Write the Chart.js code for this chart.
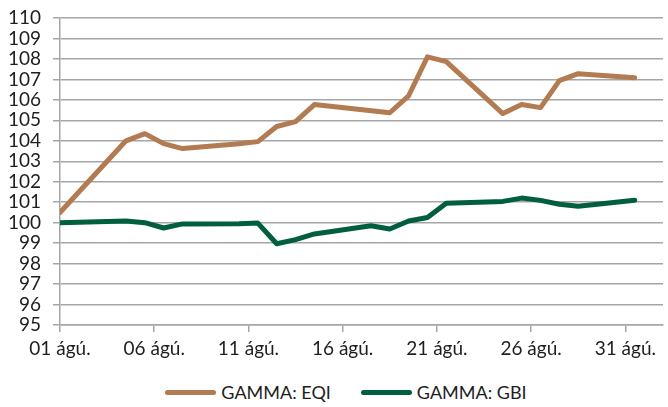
<!DOCTYPE html>
<html>
<head>
<meta charset="utf-8">
<script src="https://cdn.jsdelivr.net/npm/chart.js@4"></script>
<style>
  html, body { margin: 0; padding: 0; background: #fff; }
  #wrap { width: 668px; height: 377px; position: relative; }
  #legend {
    width: 644px; height: 30px; padding-left: 24px;
    display: flex; justify-content: center; align-items: center;
    font-family: Lato, sans-serif; font-size: 18px; color: #1e1e1e;
  }
  #legend .item { display: flex; align-items: center; margin: 0 15px; }
  #legend .swatch { width: 51px; height: 5px; border-radius: 3px; margin-right: 5px; }
</style>
</head>
<body>
<div id="wrap"><canvas id="gammaChart"></canvas></div>
<div id="legend"></div>
<script>
// days since 01 ágú. (axis start = 0)
const days = [0, 3.5, 4.5, 5.5, 6.5, 9.5, 10.5, 11.5, 12.5, 13.5, 16.5, 17.5, 18.5, 19.5, 20.5, 23.5, 24.5, 25.5, 26.5, 27.5, 30.5];
const eqi = [100.5, 104.0, 104.35, 103.86, 103.62, 103.86, 103.96, 104.7, 104.94, 105.77, null, 105.37, 106.2, 108.1, 107.87, 105.33, 105.77, 105.62, 106.94, 107.28, 107.08];
const gbi = [100.0, 100.08, 100.0, 99.74, 99.94, 99.95, 99.98, 98.97, 99.17, 99.45, 99.85, 99.69, 100.08, 100.25, 100.95, 101.04, 101.2, 101.09, 100.9, 100.8, 101.09];

const tickDays = [0, 5, 10, 15, 20, 25, 30];
const tickLabels = ["01 ágú.", "06 ágú.", "11 ágú.", "16 ágú.", "21 ágú.", "26 ágú.", "31 ágú."];

const gridColor = "#a6a6a6";
const textColor = "#1e1e1e";
const font = { family: "Lato", size: 19 };

const toPoints = vals => days.map((d, i) => ({ x: d, y: vals[i] }));

const chart = new Chart(document.getElementById("gammaChart"), {
  type: "line",
  data: {
    datasets: [{
      label: "GAMMA: EQI",
      data: toPoints(eqi),
      borderColor: "#b27b52",
      backgroundColor: "#b27b52",
      borderWidth: 5,
      pointRadius: 0,
      tension: 0,
      spanGaps: true,
      borderJoinStyle: "round",
      borderCapStyle: "round"
    }, {
      label: "GAMMA: GBI",
      data: toPoints(gbi),
      borderColor: "#005f3f",
      backgroundColor: "#005f3f",
      borderWidth: 5,
      pointRadius: 0,
      tension: 0,
      spanGaps: true,
      borderJoinStyle: "round",
      borderCapStyle: "round"
    }]
  },
  options: {
    responsive: true,
    maintainAspectRatio: false,
    animation: false,
    layout: { padding: { top: 18, right: 5, left: 0, bottom: 0 } },
    plugins: {
      legend: { display: false },
      tooltip: { enabled: false }
    },
    scales: {
      x: {
        type: "linear",
        min: 0,
        max: 32,
        afterBuildTicks: scale => {
          scale.ticks = tickDays.map(v => ({ value: v }));
        },
        afterFit: scale => { scale.height = 52; },
        ticks: {
          autoSkip: false,
          maxRotation: 0,
          padding: 5,
          color: textColor,
          font: font,
          callback: v => tickLabels[tickDays.indexOf(v)]
        },
        grid: {
          drawOnChartArea: false,
          drawTicks: true,
          tickLength: 7,
          color: gridColor,
          lineWidth: 1.5
        },
        border: { color: gridColor, width: 1.5 }
      },
      y: {
        min: 95,
        max: 110,
        afterFit: scale => {
          scale.width = 60;
          scale.paddingTop = 0;
          scale.paddingBottom = 0;
        },
        ticks: {
          stepSize: 1,
          autoSkip: false,
          padding: 12,
          color: textColor,
          font: font
        },
        grid: {
          color: gridColor,
          lineWidth: 1.5,
          drawTicks: true,
          tickLength: 7
        },
        border: { color: gridColor, width: 1.5 }
      }
    }
  }
});

// legend built from the dataset labels and colours
const legend = document.getElementById("legend");
chart.data.datasets.forEach(ds => {
  const item = document.createElement("div");
  item.className = "item";
  const sw = document.createElement("span");
  sw.className = "swatch";
  sw.style.background = ds.borderColor;
  const txt = document.createElement("span");
  txt.textContent = ds.label;
  item.appendChild(sw);
  item.appendChild(txt);
  legend.appendChild(item);
});
</script>
</body>
</html>
